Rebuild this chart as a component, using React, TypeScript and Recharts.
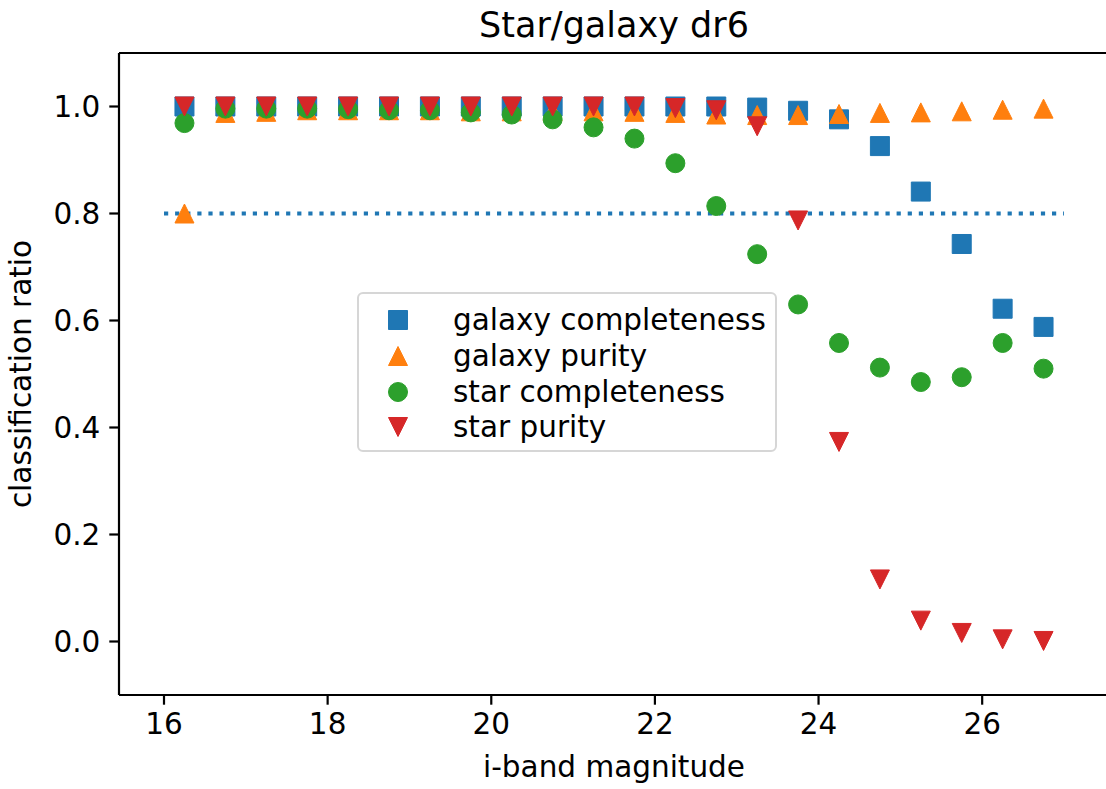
import {
  ScatterChart,
  Scatter,
  XAxis,
  YAxis,
  ReferenceLine,
  Legend,
  Label,
} from 'recharts';

const magnitudes = [
  16.25, 16.75, 17.25, 17.75, 18.25, 18.75, 19.25, 19.75, 20.25, 20.75, 21.25,
  21.75, 22.25, 22.75, 23.25, 23.75, 24.25, 24.75, 25.25, 25.75, 26.25, 26.75,
];

const galaxyCompleteness = [
  1.0, 1.0, 1.0, 1.0, 1.0, 1.0, 1.0, 1.0, 1.0, 1.0, 1.0, 1.0, 1.0, 1.0, 0.998,
  0.992, 0.976, 0.926, 0.841, 0.743, 0.622, 0.588,
];

const galaxyPurity = [
  0.8, 0.988, 0.99, 0.993, 0.993, 0.993, 0.993, 0.991, 0.991, 0.991, 0.991,
  0.99, 0.988, 0.985, 0.984, 0.984, 0.986, 0.988, 0.989, 0.991, 0.994, 0.996,
];

const starCompleteness = [
  0.969, 0.996, 0.996, 0.996, 0.995, 0.993, 0.993, 0.989, 0.985, 0.976, 0.961,
  0.94, 0.894, 0.814, 0.724, 0.63, 0.558, 0.512, 0.485, 0.494, 0.558, 0.51,
];

const starPurity = [
  1.0, 1.0, 1.0, 1.0, 1.0, 1.0, 1.0, 1.0, 1.0, 1.0, 1.0, 1.0, 0.997, 0.993,
  0.963, 0.787, 0.373, 0.116, 0.039, 0.016, 0.004, 0.001,
];

const thresholdLevel = 0.8;
const thresholdRange = [16, 27];

const xTicks = [16, 18, 20, 22, 24, 26];
const yTicks = [0, 0.2, 0.4, 0.6, 0.8, 1.0];
const yDomain = [-0.1, 1.1];

const FONT = '"DejaVu Sans", sans-serif';
const FS = 29.5;
const HALF = 9.5;

type Marker = 'square' | 'up' | 'circle' | 'down';

function MarkerShape({ kind, cx, cy, color }: { kind: Marker; cx: number; cy: number; color: string }) {
  const common = { fill: color, stroke: color, strokeWidth: 1, strokeLinejoin: 'round' as const };
  if (kind === 'square') {
    return <rect x={cx - HALF} y={cy - HALF} width={HALF * 2} height={HALF * 2} {...common} />;
  }
  if (kind === 'circle') {
    return <circle cx={cx} cy={cy} r={HALF} {...common} />;
  }
  if (kind === 'up') {
    return (
      <polygon
        points={`${cx},${cy - HALF} ${cx - HALF},${cy + HALF} ${cx + HALF},${cy + HALF}`}
        {...common}
      />
    );
  }
  return (
    <polygon
      points={`${cx - HALF},${cy - HALF} ${cx + HALF},${cy - HALF} ${cx},${cy + HALF}`}
      {...common}
    />
  );
}

const series: { key: string; label: string; color: string; marker: Marker; values: number[] }[] = [
  { key: 'gc', label: 'galaxy completeness', color: '#1f77b4', marker: 'square', values: galaxyCompleteness },
  { key: 'gp', label: 'galaxy purity', color: '#ff7f0e', marker: 'up', values: galaxyPurity },
  { key: 'sc', label: 'star completeness', color: '#2ca02c', marker: 'circle', values: starCompleteness },
  { key: 'sp', label: 'star purity', color: '#d62728', marker: 'down', values: starPurity },
];

function LegendBox() {
  return (
    <div
      style={{
        width: 416,
        height: 156,
        border: '2px solid #d6d6d6',
        borderRadius: 6,
        background: 'rgba(255,255,255,0.8)',
        position: 'relative',
        fontFamily: FONT,
        fontSize: FS,
        color: '#000',
      }}
    >
      {series.map((s, i) => (
        <div
          key={s.key}
          style={{ position: 'absolute', left: 0, top: 8 + i * 35.8, height: 36, display: 'flex', alignItems: 'center' }}
        >
          <svg width={80} height={36} style={{ display: 'block' }}>
            <MarkerShape kind={s.marker} cx={39} cy={18} color={s.color} />
          </svg>
          <span style={{ marginLeft: 14, whiteSpace: 'nowrap', lineHeight: '36px' }}>{s.label}</span>
        </div>
      ))}
    </div>
  );
}

export default function App() {
  return (
    <div
      style={{
        position: 'fixed',
        left: 0,
        top: 0,
        width: 1106,
        height: 789,
        overflow: 'hidden',
        background: '#fff',
      }}
    >
      <ScatterChart width={1125} height={789} margin={{ top: 53, right: 16, left: 59, bottom: 34 }}>
        <XAxis
          type="number"
          dataKey="x"
          domain={[15.45, 27.55]}
          allowDataOverflow
          ticks={xTicks}
          tickSize={9.7}
          tickMargin={8}
          height={60}
          axisLine={{ stroke: '#000', strokeWidth: 2.2 }}
          tickLine={{ stroke: '#000', strokeWidth: 2.2 }}
          tick={{ fill: '#000', fontSize: FS, fontFamily: FONT }}
        >
          <Label
            content={({ viewBox }: any) => (
              <text
                x={viewBox.x + viewBox.width / 2}
                y={777}
                textAnchor="middle"
                fontSize={FS}
                fontFamily={FONT}
                fill="#000"
              >
                i-band magnitude
              </text>
            )}
          />
        </XAxis>
        <YAxis
          type="number"
          dataKey="y"
          domain={yDomain}
          allowDataOverflow
          ticks={yTicks}
          tickFormatter={(v: number) => v.toFixed(1)}
          tickSize={9.7}
          tickMargin={9}
          width={60}
          axisLine={{ stroke: '#000', strokeWidth: 2.2 }}
          tickLine={{ stroke: '#000', strokeWidth: 2.2 }}
          tick={{ fill: '#000', fontSize: FS, fontFamily: FONT }}
        >
          <Label
            content={({ viewBox }: any) => {
              const cy = viewBox.y + viewBox.height / 2;
              return (
                <text
                  x={31}
                  y={cy}
                  transform={`rotate(-90, 31, ${cy})`}
                  textAnchor="middle"
                  fontSize={FS}
                  fontFamily={FONT}
                  fill="#000"
                >
                  classification ratio
                </text>
              );
            }}
          />
        </YAxis>
        {series.map((s) => (
          <Scatter
            key={s.key}
            name={s.label}
            data={magnitudes.map((x, i) => ({ x, y: s.values[i] }))}
            fill={s.color}
            isAnimationActive={false}
            shape={(p: any) => <MarkerShape kind={s.marker} cx={p.cx} cy={p.cy} color={s.color} />}
          />
        ))}
        <ReferenceLine
          segment={[
            { x: thresholdRange[0], y: thresholdLevel },
            { x: thresholdRange[1], y: thresholdLevel },
          ]}
          stroke="#1f77b4"
          strokeWidth={4.2}
          strokeDasharray="4.2 6.9"
          ifOverflow="visible"
        />
        <ReferenceLine
          y={yDomain[1]}
          stroke="#000"
          strokeWidth={2.2}
          ifOverflow="visible"
          label={({ viewBox }: any) => (
            <text
              x={viewBox.x + viewBox.width / 2}
              y={37}
              textAnchor="middle"
              fontSize={35}
              fontFamily={FONT}
              fill="#000"
            >
              Star/galaxy dr6
            </text>
          )}
        />
        <Legend
          layout="horizontal"
          verticalAlign="middle"
          align="center"
          content={() => <LegendBox />}
          wrapperStyle={{ left: 357, top: 292, width: 420, height: 160 }}
        />
      </ScatterChart>
    </div>
  );
}
